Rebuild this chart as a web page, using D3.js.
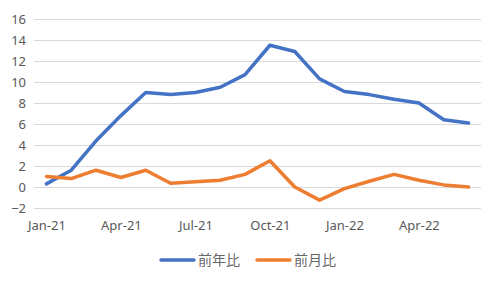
<!DOCTYPE html>
<html>
<head>
<meta charset="utf-8">
<script src="https://cdn.jsdelivr.net/npm/d3@7/dist/d3.min.js"></script>
<style>
  body { margin: 0; background: #fff; }
  text { font-family: "Noto Sans", "Open Sans", sans-serif; fill: #595959; }
</style>
</head>
<body>
<div id="chart"></div>
<script>
// months on the x axis
var months = ["Jan-21", "Feb-21", "Mar-21", "Apr-21", "May-21", "Jun-21",
              "Jul-21", "Aug-21", "Sep-21", "Oct-21", "Nov-21", "Dec-21",
              "Jan-22", "Feb-22", "Mar-22", "Apr-22", "May-22", "Jun-22"];
// 前年比 (year on year)
var yoy = [0.3, 1.6, 4.4, 6.8, 9.0, 8.8, 9.0, 9.5, 10.7, 13.5, 12.9, 10.3,
           9.1, 8.8, 8.35, 8.0, 6.4, 6.1];
// 前月比 (month on month)
var mom = [1.0, 0.8, 1.6, 0.9, 1.6, 0.35, 0.5, 0.65, 1.2, 2.5, 0.0, -1.25,
           -0.15, 0.55, 1.2, 0.65, 0.2, 0.0];
var yTicks = [-2, 0, 2, 4, 6, 8, 10, 12, 14, 16];
var xTickLabels = ["Jan-21", "Apr-21", "Jul-21", "Oct-21", "Jan-22", "Apr-22"];

var seriesList = [
  {name: "前年比", values: yoy, color: "#4472C4"},
  {name: "前月比", values: mom, color: "#ED7D31"}
];

var width = 500, height = 288;
var margin = {top: 19, right: 19, bottom: 80, left: 34};

var svg = d3.select("#chart").append("svg")
    .attr("width", width)
    .attr("height", height);

var x = d3.scalePoint()
    .domain(months)
    .range([margin.left, width - margin.right])
    .padding(0.5);

var y = d3.scaleLinear()
    .domain([-2, 16])
    .range([height - margin.bottom, margin.top]);

// gridlines
svg.append("g")
    .selectAll("line")
    .data(yTicks)
    .enter().append("line")
    .attr("x1", margin.left)
    .attr("x2", width - margin.right)
    .attr("y1", function(d) { return Math.round(y(d)) + 0.5; })
    .attr("y2", function(d) { return Math.round(y(d)) + 0.5; })
    .attr("stroke", "#d9d9d9")
    .attr("stroke-width", 1);

// y axis labels
var yAxis = svg.append("g")
    .attr("transform", "translate(" + (margin.left - 8) + ",0)")
    .call(d3.axisLeft(y).tickValues(yTicks).tickSize(0).tickPadding(0));
yAxis.select(".domain").remove();
yAxis.selectAll("text")
    .style("font-size", "13px")
    .style("fill", "#595959");

// x axis labels
var xAxis = svg.append("g")
    .attr("transform", "translate(0," + (height - margin.bottom + 13) + ")")
    .call(d3.axisBottom(x).tickValues(xTickLabels).tickSize(0).tickPadding(0));
xAxis.select(".domain").remove();
xAxis.selectAll("text")
    .style("font-size", "13px")
    .style("fill", "#595959");

var line = d3.line()
    .x(function(d, i) { return x(months[i]); })
    .y(function(d) { return y(d); });

seriesList.forEach(function(s) {
  svg.append("path")
      .datum(s.values)
      .attr("d", line)
      .attr("fill", "none")
      .attr("stroke", s.color)
      .attr("stroke-width", 3.5)
      .attr("stroke-linejoin", "round")
      .attr("stroke-linecap", "round");
});

// legend
var legend = svg.append("g")
    .attr("transform", "translate(161,260)");

var item = legend.selectAll("g")
    .data(seriesList)
    .enter().append("g")
    .attr("transform", function(d, i) { return "translate(" + (i * 96) + ",0)"; });

item.append("line")
    .attr("x1", 0)
    .attr("x2", 33)
    .attr("stroke", function(d) { return d.color; })
    .attr("stroke-width", 3.5)
    .attr("stroke-linecap", "round");

item.append("text")
    .attr("x", 37)
    .attr("dy", "0.36em")
    .style("font-family", "'Noto Sans CJK JP', sans-serif")
    .style("font-size", "14px")
    .style("fill", "#666666")
    .text(function(d) { return d.name; });
</script>
</body>
</html>
